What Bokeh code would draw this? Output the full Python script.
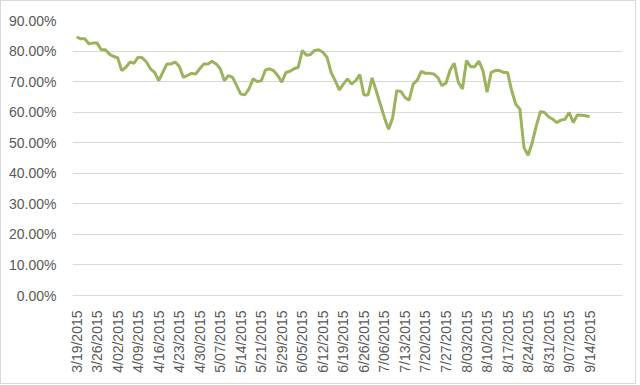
import math
from bokeh.plotting import figure
from bokeh.models import FixedTicker, PrintfTickFormatter, Range1d
from bokeh.embed import file_html
from bokeh.resources import INLINE

# tick labels (every 5th trading day)
date_labels = ["3/19/2015", "3/26/2015", "4/02/2015", "4/09/2015", "4/16/2015",
               "4/23/2015", "4/30/2015", "5/07/2015", "5/14/2015", "5/21/2015",
               "5/29/2015", "6/05/2015", "6/12/2015", "6/19/2015", "6/26/2015",
               "7/06/2015", "7/13/2015", "7/20/2015", "7/27/2015", "8/03/2015",
               "8/10/2015", "8/17/2015", "8/24/2015", "8/31/2015", "9/07/2015",
               "9/14/2015"]

# series values (%), one per trading day
values = [84.6, 84.0, 84.0, 82.4, 82.6, 82.6, 80.4, 80.4, 79.0, 78.2,
          77.8, 73.6, 74.7, 76.4, 76.0, 78.0, 77.8, 76.4, 74.2, 73.0,
          70.3, 73.0, 75.8, 75.8, 76.4, 75.0, 71.4, 72.0, 72.7, 72.5,
          74.2, 75.8, 75.8, 76.7, 75.8, 74.2, 70.3, 72.0, 71.4, 68.7,
          65.9, 65.7, 67.6, 70.9, 70.0, 70.3, 73.8, 74.2, 73.6, 72.0,
          69.8, 73.0, 73.4, 74.2, 74.7, 80.2, 78.6, 78.9, 80.2, 80.4,
          79.6, 78.0, 73.0, 70.3, 67.3, 69.2, 70.9, 69.2, 70.3, 72.3,
          65.6, 65.6, 71.2, 67.0, 62.6, 58.2, 54.4, 58.2, 67.0, 66.8,
          64.8, 63.9, 69.2, 70.5, 73.4, 72.7, 72.7, 72.5, 71.4, 68.7,
          69.5, 73.8, 76.0, 69.8, 67.6, 76.9, 74.9, 74.9, 76.7, 73.6,
          66.5, 73.0, 73.6, 73.6, 73.0, 73.0, 67.0, 62.6, 61.0, 48.4,
          45.9, 50.0, 55.5, 60.2, 59.9, 58.5, 57.7, 56.6, 57.4, 57.7,
          59.9, 56.6, 59.1, 59.0, 58.8, 58.5]

y_ticks = [0, 10, 20, 30, 40, 50, 60, 70, 80, 90]

x = list(range(len(values)))
label_pos = [i * 5 for i in range(len(date_labels))]

p = figure(width=636, height=384, output_backend="svg", toolbar_location=None,
           x_range=Range1d(-1, 133), y_range=Range1d(0, 90),
           min_border_left=71, min_border_right=15, min_border_top=19,
           min_border_bottom=90)
p.styles = {"border": "1px solid #D9D9D9"}
p.outline_line_color = None
p.background_fill_color = "white"
p.border_fill_color = "white"

p.line(x, values, line_color="#9AB35C", line_width=3)

font = "Liberation Sans"
# y axis
p.yaxis.ticker = FixedTicker(ticks=y_ticks)
p.yaxis.formatter = PrintfTickFormatter(format="%.2f%%")
p.yaxis.axis_line_color = None
p.yaxis.major_tick_line_color = None
p.yaxis.minor_tick_line_color = None
p.yaxis.major_label_text_font = font
p.yaxis.major_label_text_font_size = "14px"
p.yaxis.major_label_text_color = "#595959"
p.yaxis.major_label_standoff = 10

# x axis
p.xaxis.ticker = FixedTicker(ticks=label_pos)
p.xaxis.major_label_overrides = {pos: lab for pos, lab in zip(label_pos, date_labels)}
p.xaxis.major_label_orientation = math.pi / 2
p.xaxis.axis_line_color = "#D9D9D9"
p.xaxis.major_tick_line_color = None
p.xaxis.minor_tick_line_color = None
p.xaxis.major_label_text_font = font
p.xaxis.major_label_text_font_size = "14px"
p.xaxis.major_label_text_color = "#595959"
p.xaxis.major_label_standoff = 9

p.xgrid.grid_line_color = None
p.ygrid.grid_line_color = "#D9D9D9"
p.ygrid.ticker = FixedTicker(ticks=y_ticks)

open("out.html", "w").write(file_html(p, INLINE))
